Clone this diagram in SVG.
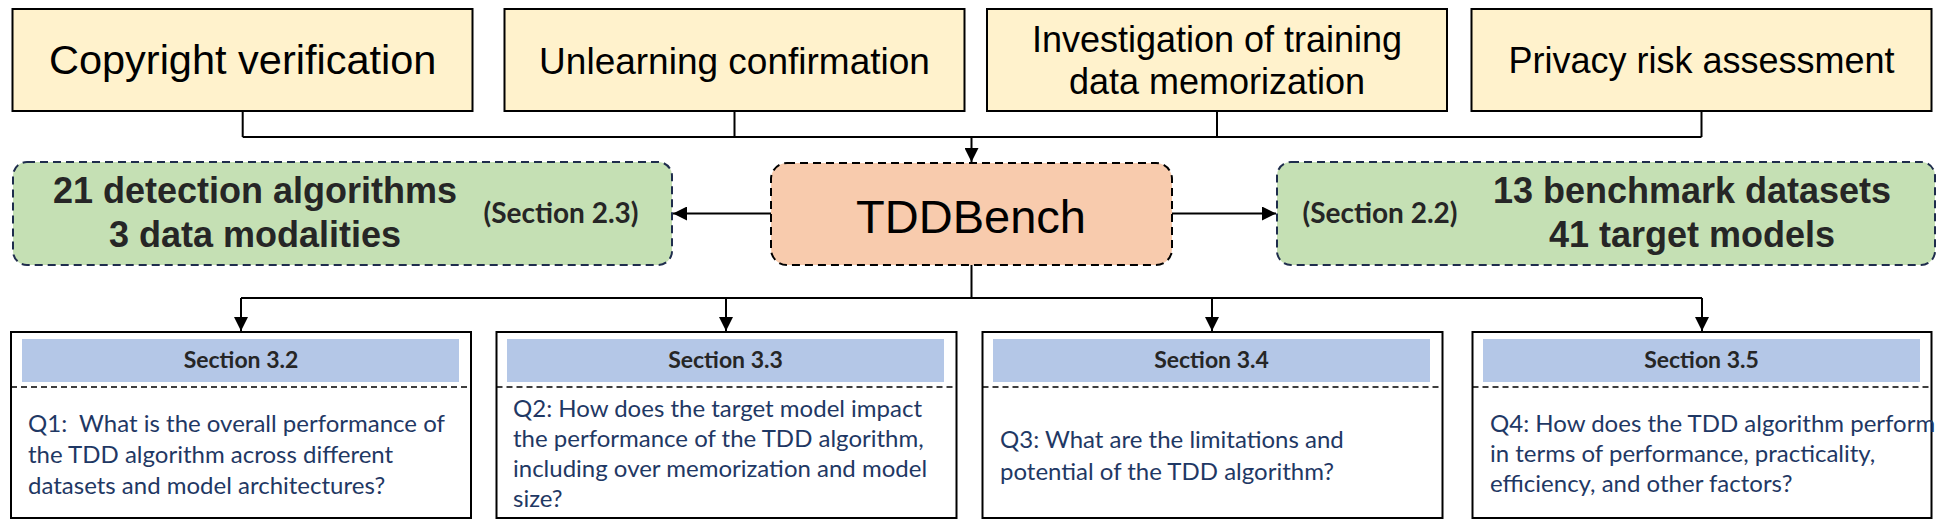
<svg xmlns="http://www.w3.org/2000/svg" width="1940" height="523" viewBox="0 0 1940 523">
<defs>
<style>
.top{fill:#FFF2CC;stroke:#000;stroke-width:2}
.topt{font-family:"Liberation Sans",Arial,sans-serif;fill:#000;text-anchor:middle}
.green{fill:#C5E0B4;stroke:#1F2D4D;stroke-width:2;stroke-dasharray:8 5}
.greent{font-family:"Liberation Sans",Arial,sans-serif;font-weight:bold;font-size:36px;fill:#262626;text-anchor:middle}
.sec2{font-family:Lato,"Liberation Sans",sans-serif;font-weight:bold;font-size:28px;fill:#262626;text-anchor:middle}
.core{fill:#F8CBAD;stroke:#000;stroke-width:2;stroke-dasharray:8 5}
.q{fill:#fff;stroke:#000;stroke-width:2}
.hdr{fill:#B4C7E7}
.hdrt{font-family:Lato,"Liberation Sans",sans-serif;font-weight:bold;font-size:23px;fill:#262626;text-anchor:middle}
.div{stroke:#000;stroke-width:1.5;stroke-dasharray:6 4}
.qt{font-family:Lato,"Liberation Sans",sans-serif;font-size:24px;fill:#1F3864}
.conn{fill:none;stroke:#000;stroke-width:2}
</style>
<marker id="arr" viewBox="0 0 14 14" refX="14" refY="7" markerWidth="14" markerHeight="14" markerUnits="userSpaceOnUse" orient="auto">
<path d="M0,0 L14,7 L0,14 z" fill="#000"/>
</marker>
</defs>
<rect width="1940" height="523" fill="#fff"/>

<g id="connectors">
<path class="conn" d="M242.7,111 V137 M734.5,111 V137 M1217,111 V137 M1701.5,111 V137 M242.7,137 H1701.5"/>
<path class="conn" d="M971.5,137 V162" marker-end="url(#arr)"/>
<path class="conn" d="M771,213.5 H673" marker-end="url(#arr)"/>
<path class="conn" d="M1172,213.5 H1276" marker-end="url(#arr)"/>
<path class="conn" d="M971.5,265 V298 M241,298 H1702"/>
<path class="conn" d="M241,298 V331" marker-end="url(#arr)"/>
<path class="conn" d="M726,298 V331" marker-end="url(#arr)"/>
<path class="conn" d="M1212,298 V331" marker-end="url(#arr)"/>
<path class="conn" d="M1702,298 V331" marker-end="url(#arr)"/>
</g>

<g id="copyright">
<rect class="top" x="12.5" y="9" width="460" height="102"/>
<text class="topt" x="242.7" y="74" font-size="41.5">Copyright verification</text>
</g>
<g id="unlearning">
<rect class="top" x="504.5" y="9" width="460" height="102"/>
<text class="topt" x="734.5" y="74" font-size="37">Unlearning confirmation</text>
</g>
<g id="memorization">
<rect class="top" x="987" y="9" width="460" height="102"/>
<text class="topt" x="1217" y="52" font-size="36">Investigation of training</text>
<text class="topt" x="1217" y="94" font-size="36">data memorization</text>
</g>
<g id="privacy">
<rect class="top" x="1471.5" y="9" width="460" height="102"/>
<text class="topt" x="1701.5" y="73" font-size="36">Privacy risk assessment</text>
</g>

<g id="algorithms">
<rect class="green" x="13" y="162" width="659" height="103" rx="14"/>
<text class="greent" x="255" y="203">21 detection algorithms</text>
<text class="greent" x="255" y="247">3 data modalities</text>
<text class="sec2" x="561" y="223">(Section 2.3)</text>
</g>

<g id="tddbench">
<rect class="core" x="771" y="163" width="401" height="102" rx="16"/>
<text class="topt" x="971" y="232.5" font-size="47">TDDBench</text>
</g>

<g id="datasets">
<rect class="green" x="1277" y="162" width="658" height="103" rx="14"/>
<text class="sec2" x="1380" y="223">(Section 2.2)</text>
<text class="greent" x="1692" y="203">13 benchmark datasets</text>
<text class="greent" x="1692" y="247">41 target models</text>
</g>

<g id="q1">
<rect class="q" x="11" y="332" width="460" height="186"/>
<rect class="hdr" x="22" y="339" width="437" height="43"/>
<text class="hdrt" x="241" y="368">Section 3.2</text>
<line class="div" x1="11" y1="387" x2="471" y2="387"/>
<text class="qt" x="28" y="432" xml:space="preserve">Q1:  What is the overall performance of</text>
<text class="qt" x="28" y="463">the TDD algorithm across different</text>
<text class="qt" x="28" y="494">datasets and model architectures?</text>
</g>

<g id="q2">
<rect class="q" x="496.5" y="332" width="460" height="186"/>
<rect class="hdr" x="507" y="339" width="437" height="43"/>
<text class="hdrt" x="725.5" y="368">Section 3.3</text>
<line class="div" x1="496.5" y1="387" x2="956.5" y2="387"/>
<text class="qt" x="513" y="417">Q2: How does the target model impact</text>
<text class="qt" x="513" y="447">the performance of the TDD algorithm,</text>
<text class="qt" x="513" y="477">including over memorization and model</text>
<text class="qt" x="513" y="507">size?</text>
</g>

<g id="q3">
<rect class="q" x="982.5" y="332" width="460" height="186"/>
<rect class="hdr" x="993" y="339" width="437" height="43"/>
<text class="hdrt" x="1211.5" y="368">Section 3.4</text>
<line class="div" x1="982.5" y1="387" x2="1442.5" y2="387"/>
<text class="qt" x="1000" y="448">Q3: What are the limitations and</text>
<text class="qt" x="1000" y="480">potential of the TDD algorithm?</text>
</g>

<g id="q4">
<rect class="q" x="1472.5" y="332" width="459" height="186"/>
<rect class="hdr" x="1483" y="339" width="437" height="43"/>
<text class="hdrt" x="1701.5" y="368">Section 3.5</text>
<line class="div" x1="1472.5" y1="387" x2="1931.5" y2="387"/>
<text class="qt" x="1490" y="432">Q4: How does the TDD algorithm perform</text>
<text class="qt" x="1490" y="462">in terms of performance, practicality,</text>
<text class="qt" x="1490" y="492">efficiency, and other factors?</text>
</g>
</svg>
